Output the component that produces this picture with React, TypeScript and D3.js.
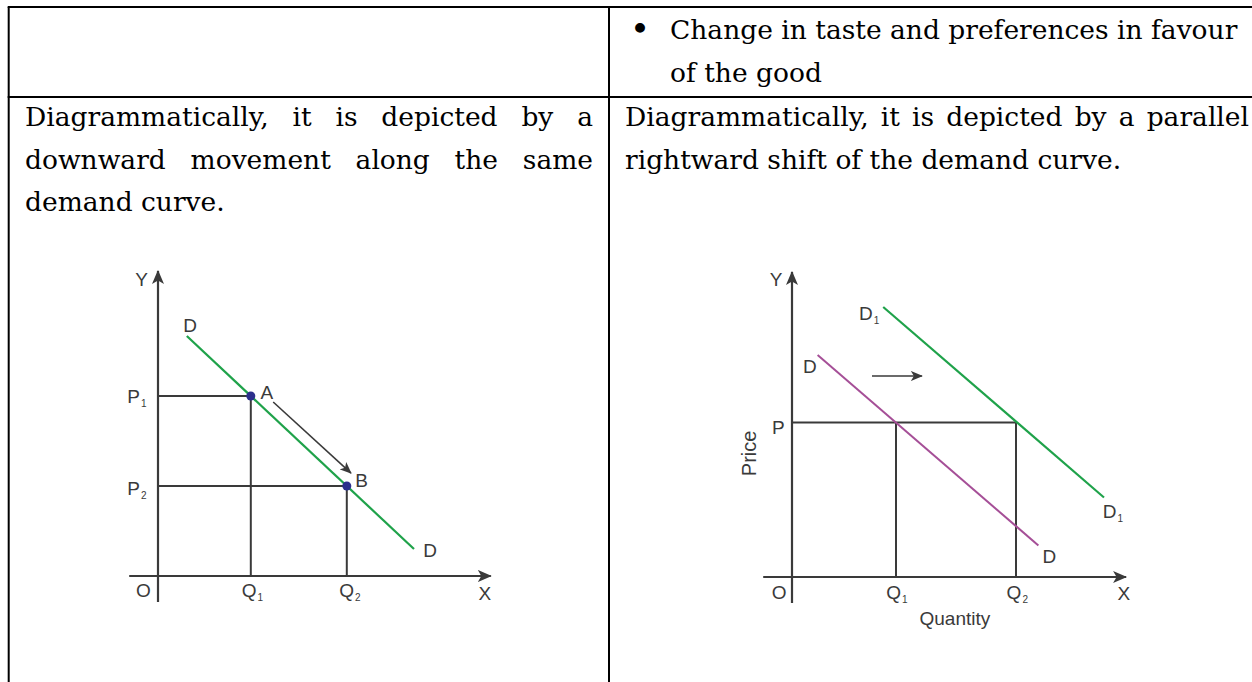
import React from "react";
import * as d3 from "d3";

const W = 1252;
const H = 682;

// ---------- table text ----------
const bulletLines = ["Change in taste and preferences in favour", "of the good"];
const leftLines = ["Diagrammatically, it is depicted by a", "downward movement along the same", "demand curve."];
const leftJustify = [true, true, false];
const rightLines = ["Diagrammatically, it is depicted by a parallel", "rightward shift of the demand curve."];
const rightJustify = [true, false];

// ---------- left chart (movement along the curve) ----------
const leftDemand: [number, number][] = [[9, 80], [80, 9]];
const pointA: [number, number] = [29, 60];
const pointB: [number, number] = [59, 30];
const moveArrow: [number, number][] = [[36, 58], [60.3, 34.3]];
const leftAxisX = [-9, 104];
const leftAxisY = [-8.7, 101.7];
const leftLabels = [
  { t: "Y", s: "", at: [-5.1, 99] },
  { t: "O", s: "", at: [-4.6, -4.7] },
  { t: "X", s: "", at: [102.1, -5.6] },
  { t: "D", s: "", at: [10, 83.7] },
  { t: "D", s: "", at: [85, 8.7] },
  { t: "A", s: "", at: [34, 61.4] },
  { t: "B", s: "", at: [63.6, 32] },
  { t: "P", s: "1", at: [-6.6, 59.8] },
  { t: "P", s: "2", at: [-6.6, 29.3] },
  { t: "Q", s: "1", at: [29.5, -4.7] },
  { t: "Q", s: "2", at: [60, -4.7] },
];

// ---------- right chart (shift of the curve) ----------
const demandD: [number, number][] = [[8, 74], [77, 10.5]];
const demandD1: [number, number][] = [[28.5, 90], [97.5, 26.5]];
const priceP = 51.5;
const quantityQ1 = 32.5;
const quantityQ2 = 70;
const shiftArrow: [number, number][] = [[25, 67], [40.6, 67]];
const rightAxisX = [-9, 104.4];
const rightAxisY = [-8.7, 101.7];
const rightLabels = [
  { t: "Y", s: "", at: [-5, 99.2] },
  { t: "O", s: "", at: [-4, -4.9] },
  { t: "X", s: "", at: [103.7, -5.4] },
  { t: "D", s: "1", at: [24.1, 87.9] },
  { t: "D", s: "", at: [5.6, 70.3] },
  { t: "P", s: "", at: [-4.3, 50.1] },
  { t: "D", s: "1", at: [100.3, 21.8] },
  { t: "D", s: "", at: [80.4, 6.8] },
  { t: "Q", s: "1", at: [32.8, -4.9] },
  { t: "Q", s: "2", at: [70.4, -4.9] },
  { t: "Quantity", s: "", at: [50.9, -13.8] },
];
const priceLabel = { t: "Price", at: [-13.6, 41.2] };

// ---------- styles ----------
const SERIF = "'DejaVu Serif', 'Liberation Serif', serif";
const SERIF_SIZE = 26.5;
const SANS = "'Liberation Sans', Arial, sans-serif";
const LABEL_SIZE = 19;
const INK = "#3a3a3a";
const GREEN = "#1fa24a";
const MAGENTA = "#a54f97";
const DOT = "#2c2f8c";

let ctx: CanvasRenderingContext2D | null = null;
function measure(s: string, font: string) {
  if (!ctx) ctx = document.createElement("canvas").getContext("2d");
  if (!ctx) return s.length * 12;
  ctx.font = font;
  return ctx.measureText(s).width;
}

function TextLine({ text, x0, x1, y, justify }: { text: string; x0: number; x1: number; y: number; justify: boolean }) {
  const font = `${SERIF_SIZE}px ${SERIF}`;
  if (!justify) {
    return (
      <text x={x0} y={y} fontFamily={SERIF} fontSize={SERIF_SIZE} fill="#000">
        {text}
      </text>
    );
  }
  const words = text.split(" ");
  const widths = words.map((w) => measure(w, font));
  const total = d3.sum(widths);
  const gap = (x1 - x0 - total) / (words.length - 1);
  let x = x0;
  const xs = widths.map((w) => {
    const cur = x;
    x += w + gap;
    return cur;
  });
  return (
    <text y={y} fontFamily={SERIF} fontSize={SERIF_SIZE} fill="#000">
      {words.map((w, i) => (
        <tspan key={i} x={xs[i]}>
          {w}
        </tspan>
      ))}
    </text>
  );
}

function Label({ t, s, x, y }: { t: string; s: string; x: number; y: number }) {
  return (
    <text x={x} y={y} dy="0.36em" textAnchor="middle" fontFamily={SANS} fontSize={LABEL_SIZE} fill={INK}>
      {t}
      {s ? (
        <tspan dx={1} dy={4} fontSize={10}>
          {s}
        </tspan>
      ) : null}
    </text>
  );
}

function LeftChart() {
  const x = d3.scaleLinear().domain([0, 100]).range([158, 478]);
  const y = d3.scaleLinear().domain([0, 100]).range([576, 276]);
  const line = d3.line<[number, number]>().x((d) => x(d[0])).y((d) => y(d[1]));
  return (
    <g>
      <line x1={x(leftAxisX[0])} x2={x(leftAxisX[1])} y1={y(0)} y2={y(0)} stroke={INK} strokeWidth={2.2} markerEnd="url(#axisHead)" />
      <line x1={x(0)} x2={x(0)} y1={y(leftAxisY[0])} y2={y(leftAxisY[1])} stroke={INK} strokeWidth={2.2} markerEnd="url(#axisHead)" />
      {[pointA, pointB].map((p, i) => (
        <g key={i}>
          <line x1={x(0)} x2={x(p[0])} y1={y(p[1])} y2={y(p[1])} stroke={INK} strokeWidth={2} />
          <line x1={x(p[0])} x2={x(p[0])} y1={y(p[1])} y2={y(0)} stroke={INK} strokeWidth={2} />
        </g>
      ))}
      <path d={line(leftDemand) || ""} stroke={GREEN} strokeWidth={2.2} fill="none" />
      <path d={line(moveArrow) || ""} stroke={INK} strokeWidth={1.6} fill="none" markerEnd="url(#smallHead)" />
      {[pointA, pointB].map((p, i) => (
        <circle key={i} cx={x(p[0])} cy={y(p[1])} r={4.5} fill={DOT} />
      ))}
      {leftLabels.map((l, i) => (
        <Label key={i} t={l.t} s={l.s} x={x(l.at[0])} y={y(l.at[1])} />
      ))}
    </g>
  );
}

function RightChart() {
  const x = d3.scaleLinear().domain([0, 100]).range([792, 1112]);
  const y = d3.scaleLinear().domain([0, 100]).range([577, 277]);
  const line = d3.line<[number, number]>().x((d) => x(d[0])).y((d) => y(d[1]));
  return (
    <g>
      <line x1={x(rightAxisX[0])} x2={x(rightAxisX[1])} y1={y(0)} y2={y(0)} stroke={INK} strokeWidth={2.2} markerEnd="url(#axisHead)" />
      <line x1={x(0)} x2={x(0)} y1={y(rightAxisY[0])} y2={y(rightAxisY[1])} stroke={INK} strokeWidth={2.2} markerEnd="url(#axisHead)" />
      <line x1={x(0)} x2={x(quantityQ2)} y1={y(priceP)} y2={y(priceP)} stroke={INK} strokeWidth={2} />
      {[quantityQ1, quantityQ2].map((q, i) => (
        <line key={i} x1={x(q)} x2={x(q)} y1={y(priceP)} y2={y(0)} stroke={INK} strokeWidth={2} />
      ))}
      <path d={line(demandD) || ""} stroke={MAGENTA} strokeWidth={2} fill="none" />
      <path d={line(demandD1) || ""} stroke={GREEN} strokeWidth={2.2} fill="none" />
      <path d={line(shiftArrow) || ""} stroke={INK} strokeWidth={1.6} fill="none" markerEnd="url(#smallHead)" />
      {rightLabels.map((l, i) => (
        <Label key={i} t={l.t} s={l.s} x={x(l.at[0])} y={y(l.at[1])} />
      ))}
      <text
        transform={`translate(${x(priceLabel.at[0])},${y(priceLabel.at[1])}) rotate(-90)`}
        dy="0.36em"
        textAnchor="middle"
        fontFamily={SANS}
        fontSize={20}
        fill={INK}
      >
        {priceLabel.t}
      </text>
    </g>
  );
}

export default function App() {
  const top = 7;
  const sep = 97;
  const left = 8.7;
  const mid = 609;
  const lineGap = 42.5;
  return (
    <svg width={W} height={H} viewBox={`0 0 ${W} ${H}`} style={{ position: "absolute", left: 0, top: 0, background: "#fff" }}>
      <defs>
        <marker id="axisHead" viewBox="0 0 14 12" refX={13} refY={6} markerWidth={14} markerHeight={12} markerUnits="userSpaceOnUse" orient="auto">
          <path d="M0,0 L14,6 L0,12 L3.5,6 z" fill={INK} />
        </marker>
        <marker id="smallHead" viewBox="0 0 12 10" refX={11} refY={5} markerWidth={12} markerHeight={10} markerUnits="userSpaceOnUse" orient="auto">
          <path d="M0,0 L12,5 L0,10 L3,5 z" fill={INK} />
        </marker>
      </defs>
      <rect x={0} y={0} width={W} height={H} fill="#fff" />
      {/* table borders */}
      <line x1={left - 1} x2={W} y1={top} y2={top} stroke="#000" strokeWidth={2} />
      <line x1={left - 1} x2={W} y1={sep} y2={sep} stroke="#000" strokeWidth={2} />
      <line x1={left} x2={left} y1={top} y2={H} stroke="#000" strokeWidth={2} />
      <line x1={mid} x2={mid} y1={top} y2={H} stroke="#000" strokeWidth={2} />

      {/* row 1 */}
      <text x={640} y={41} textAnchor="middle" fontFamily={SERIF} fontSize={34} fill="#000">
        •
      </text>
      {bulletLines.map((t, i) => (
        <TextLine key={i} text={t} x0={670} x1={1241} y={39 + i * lineGap} justify={false} />
      ))}

      {/* row 2 */}
      {leftLines.map((t, i) => (
        <TextLine key={i} text={t} x0={25} x1={593} y={126 + i * lineGap} justify={leftJustify[i]} />
      ))}
      {rightLines.map((t, i) => (
        <TextLine key={i} text={t} x0={625} x1={1249} y={126 + i * lineGap} justify={rightJustify[i]} />
      ))}

      <LeftChart />
      <RightChart />
    </svg>
  );
}
